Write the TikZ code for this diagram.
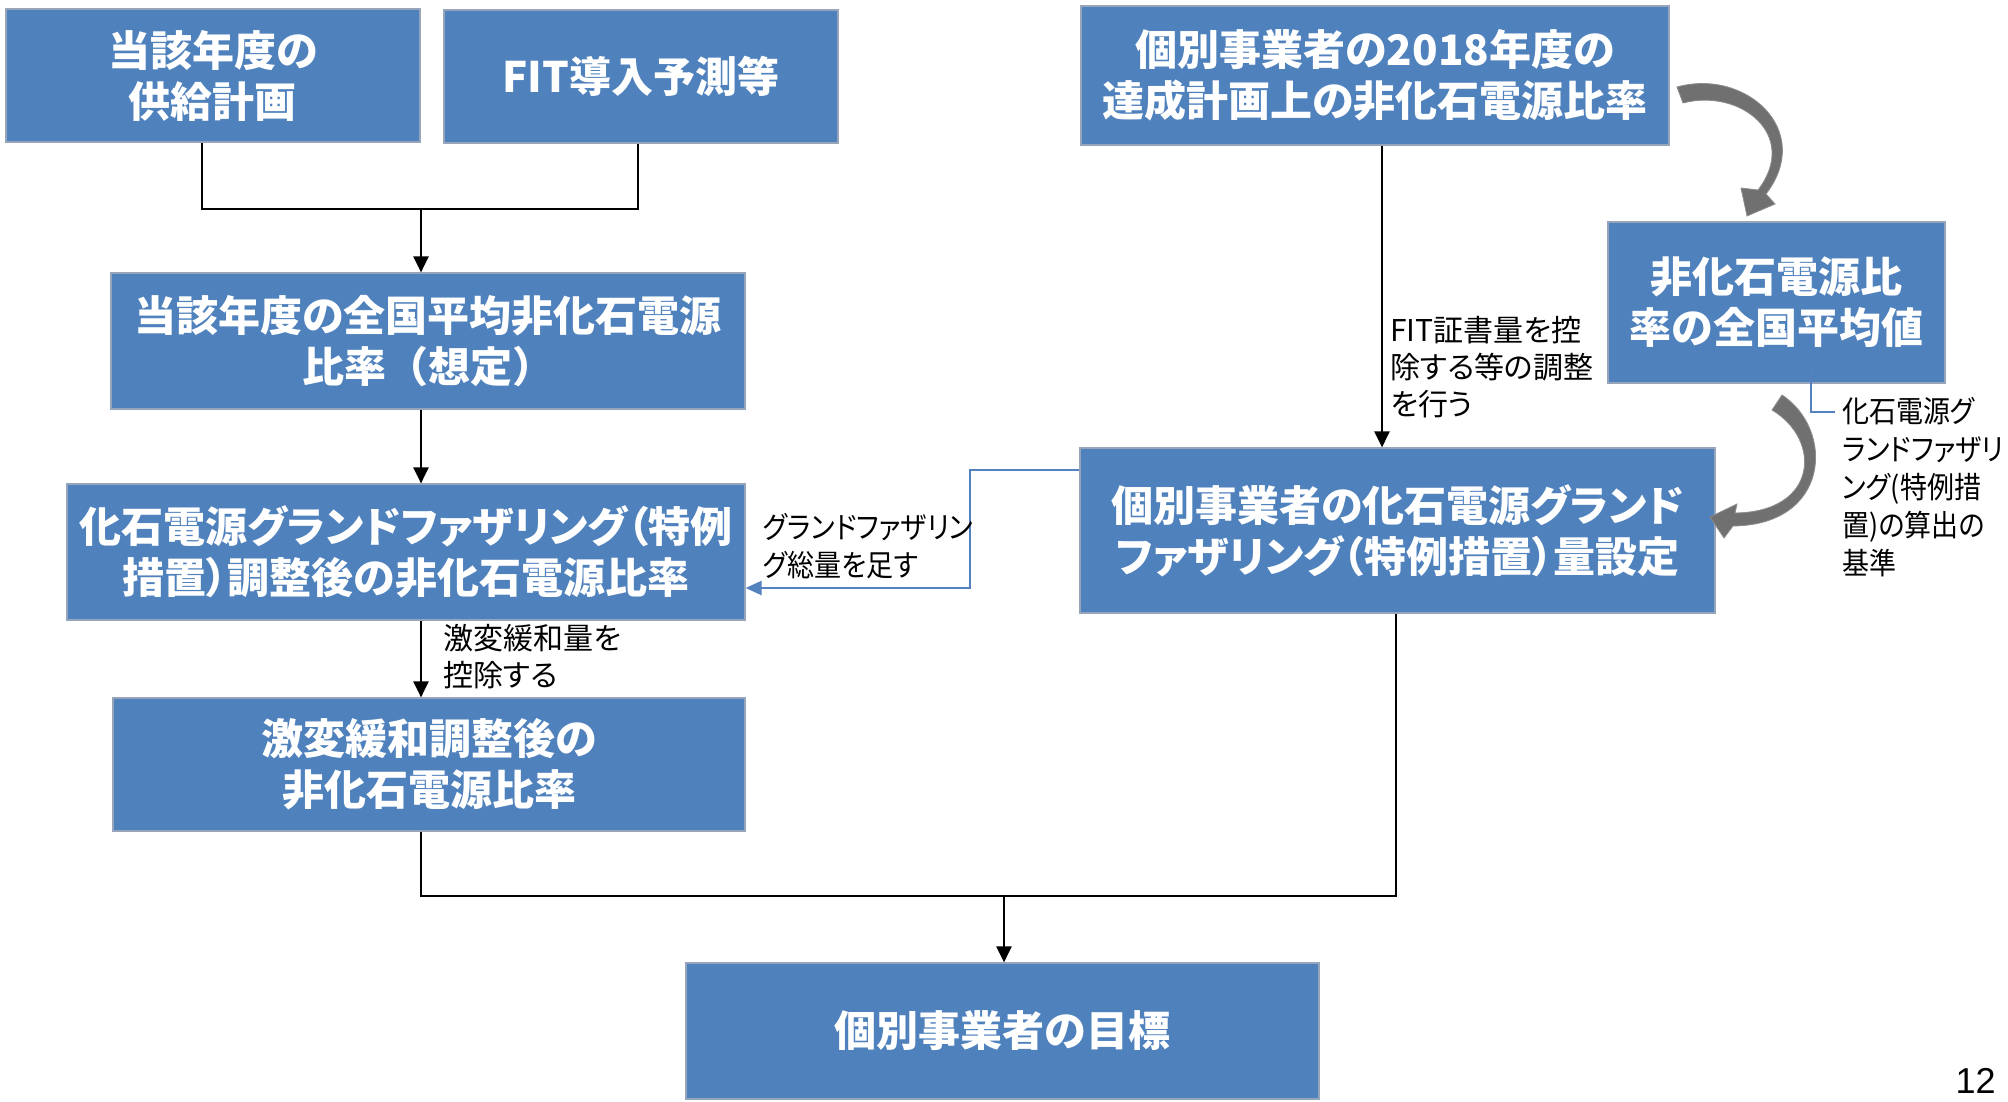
\documentclass[tikz,border=0pt]{standalone}
\usepackage{fontspec}
\setmainfont{Noto Sans CJK JP}[RawFeature=+palt]
\newfontfamily\jpfull{Noto Sans CJK JP}
\newfontfamily\narrowjp{Noto Sans CJK JP}[RawFeature=+palt, FakeStretch=0.9]
\newfontfamily\latinfont{Liberation Sans}
\usetikzlibrary{arrows.meta}
\definecolor{boxblue}{RGB}{79,129,189}
\definecolor{boxedge}{RGB}{150,165,185}
\definecolor{arrgray}{RGB}{112,112,112}
\definecolor{callblue}{RGB}{84,130,190}
\begin{document}
\begin{tikzpicture}[x=0.5pt,y=-0.5pt,
  box/.style={draw=boxedge, line width=0.6pt, fill=boxblue, text=white, align=center, inner sep=0pt, font=\bfseries\fontsize{21}{25.5}\selectfont},
  conn/.style={line width=1.25pt, black},
  arr/.style={conn, -{Triangle[width=7.5pt,length=8pt]}},
  bluearr/.style={line width=1.1pt, callblue, -{Triangle[width=7pt,length=8pt]}},
  lbl/.style={align=left, inner sep=0pt, anchor=west, font=\fontsize{15}{18.5}\selectfont},
  nlbl/.style={lbl, font=\narrowjp\fontsize{15}{19}\selectfont},
  garr/.style={fill=arrgray, draw=arrgray!80, line width=0.4pt}
]
\useasboundingbox (0,0) rectangle (2008,1102);
\fill[white] (0,0) rectangle (2008,1102);

% boxes
\node[box, minimum width=207pt, minimum height=66.5pt] (b1) at (213,75.5) {当該年度の\\供給計画};
\node[box, minimum width=197pt, minimum height=66.5pt] (b2) at (641,76.5) {FIT導入予測等};
\node[box, minimum width=317pt, minimum height=68pt] (b3) at (428,341) {当該年度の全国平均非化石電源\\比率{\jpfull （}想定{\jpfull ）}};
\node[box, minimum width=339pt, minimum height=68pt] (b4) at (406,552) {化石電源グランドファザリング（特例\\措置）調整後の非化石電源比率};
\node[box, minimum width=316pt, minimum height=66.5pt] (b5) at (429,764.5) {激変緩和調整後の\\非化石電源比率};
\node[box, minimum width=294pt, minimum height=69.5pt] (b6) at (1375,75.5) {個別事業者の2018年度の\\達成計画上の非化石電源比率};
\node[box, minimum width=168.5pt, minimum height=80.5pt] (b7) at (1776.5,302.5) {非化石電源比\\率の全国平均値};
\node[box, minimum width=317.5pt, minimum height=82.5pt] (b8) at (1397.5,530.5) {個別事業者の化石電源グランド\\ファザリング（特例措置）量設定};
\node[box, minimum width=316.5pt, minimum height=68pt] (b9) at (1002.5,1031) {個別事業者の目標};

% helper coordinates
\coordinate (c1) at (202,0);
\coordinate (c2) at (638,0);
\coordinate (j1) at (421,209);
\coordinate (j2) at (1004,896);
\coordinate (c3) at (1396,0);
\coordinate (c4) at (1382,0);
\coordinate (c5) at (970,470);
\coordinate (c6) at (0,588);

% black connectors
\draw[conn] (b1.south -| c1) -- (c1 |- j1) -- (c2 |- j1) -- (b2.south -| c2);
\draw[arr] (j1) -- (b3.north -| j1);
\draw[arr] (b3.south -| j1) -- (b4.north -| j1);
\draw[arr] (b4.south -| j1) -- (b5.north -| j1);
\draw[conn] (b5.south -| j1) -- (j1 |- j2) -- (c3 |- j2) -- (b8.south -| c3);
\draw[arr] (j2) -- (b9.north -| j2);
\draw[arr] (b6.south -| c4) -- (b8.north -| c4);

% blue connector
\draw[bluearr] (b8.west |- c5) -- (c5) -- (c5 |- c6) -- (b4.east |- c6);

% gray curved arrows (tapered block arrows)
\filldraw[garr] (1677,87) .. controls (1745,68) and (1815,130) .. (1766,194)
  -- (1775,204) -- (1747,216) -- (1741,188) -- (1758,190)
  .. controls (1800,135) and (1740,88) .. (1683,103) -- cycle;
\filldraw[garr] (1782,395) .. controls (1835,430) and (1830,525) .. (1733,526)
  -- (1724,538) -- (1710,517) -- (1737,504) -- (1735,513)
  .. controls (1818,512) and (1822,440) .. (1772,410) -- cycle;

% callout
\draw[callblue, line width=0.8pt] (1811,367) -- (1811,412) -- (1835,412);

% labels
\node[lbl] (l1) at (443,657) {激変緩和量を\\控除する};
\node[lbl] (l2) at (1390,367) {FIT証書量を控\\除する等の調整\\を行う};
\node[nlbl] (l3) at (763,546) {グランドファザリン\\グ総量を足す};
\node[nlbl] (l4) at (1842,487) {化石電源グ\\ランドファザリ\\ング(特例措\\置)の算出の\\基準};

% page number
\node[anchor=base east, inner sep=0pt, font=\latinfont\fontsize{18}{20}\selectfont] (pg) at (1996,1093) {12};
\end{tikzpicture}
\end{document}
